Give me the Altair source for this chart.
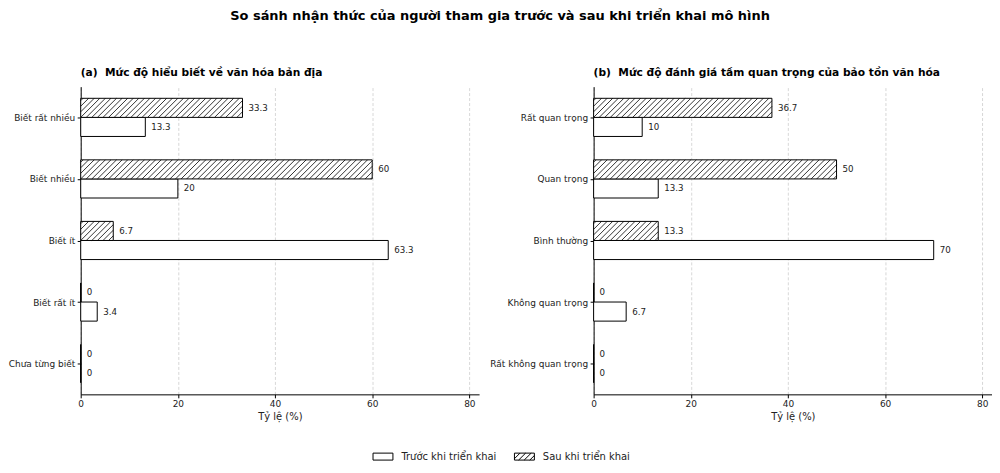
import altair as alt
import pandas as pd

FONT = "DejaVu Sans"
TITLE = "So sánh nhận thức của người tham gia trước và sau khi triển khai mô hình"
SERIES = ["Trước khi triển khai", "Sau khi triển khai"]

cats_a = ["Biết rất nhiều", "Biết nhiều", "Biết ít", "Biết rất ít", "Chưa từng biết"]
before_a = [13.3, 20, 63.3, 3.4, 0]
after_a = [33.3, 60, 6.7, 0, 0]
title_a = "(a)\u00a0 Mức độ hiểu biết về văn hóa bản địa"

cats_b = ["Rất quan trọng", "Quan trọng", "Bình thường", "Không quan trọng", "Rất không quan trọng"]
before_b = [10, 13.3, 70, 6.7, 0]
after_b = [36.7, 50, 13.3, 0, 0]
title_b = "(b)\u00a0 Mức độ đánh giá tầm quan trọng của bảo tồn văn hóa"

x_ticks = [0, 20, 40, 60, 80]
X_MAX = 82
x_title = "Tỷ lệ (%)"

# layout / style constants
W, H = 400, 309
BAR = 0.31
PXU = W / X_MAX
PYU = H / 5
HATCH_PX = 5.6
D = BAR * PYU / PXU      # 45-degree run in x-units across a bar
S = HATCH_PX / PXU       # hatch spacing in x-units


def legend_paths():
    hh = 0.35
    rect = f"M-1,{-hh}H1V{hh}H-1Z"
    run = 2 * hh
    step = HATCH_PX / 10.0
    segs = []
    a = -1 - run
    while a < 1:
        xs = max(a, -1)
        xe = min(a + run, 1)
        if xe > xs:
            ys = hh - (xs - a)
            ye = hh - (xe - a)
            segs.append(f"M{xs:.3f},{ys:.3f}L{xe:.3f},{ye:.3f}")
        a += step
    return rect, rect + "".join(segs)


def panel(cats, before, after, title, extent, with_legend):
    rows = []
    for i, c in enumerate(cats):
        rows.append({"cat": c, "idx": i, "series": SERIES[0], "value": before[i]})
        rows.append({"cat": c, "idx": i, "series": SERIES[1], "value": after[i]})
    df = pd.DataFrame(rows)

    label_expr = "[" + ",".join(f"'{c}'" for c in cats) + "][datum.value]"
    xscale = alt.Scale(domain=[0, X_MAX], nice=False, zero=True)
    xaxis = alt.Axis(values=x_ticks, title=x_title, grid=True, format="d", labelFlush=False)
    yscale = alt.Scale(domain=[-0.5, len(cats) - 0.5], reverse=True, nice=False, zero=False)
    yaxis = alt.Axis(values=list(range(len(cats))), labelExpr=label_expr, title=None,
                     grid=False, minExtent=extent, maxExtent=extent)

    base = alt.Chart(df).transform_calculate(
        y0=f"datum.idx + (datum.series === '{SERIES[1]}' ? {-BAR} : 0)"
    ).transform_calculate(
        y1=f"datum.y0 + {BAR}", ym=f"datum.y0 + {BAR / 2}"
    )

    bars = base.mark_rect(fill="white", stroke="black", strokeWidth=1).encode(
        x=alt.X("value:Q", scale=xscale, axis=xaxis),
        x2=alt.datum(0),
        y=alt.Y("y0:Q", scale=yscale, axis=yaxis),
        y2="y1:Q",
    )

    hatch = base.transform_filter(
        f"datum.series === '{SERIES[1]}'"
    ).transform_calculate(
        ks=f"sequence(floor({-D}/{S}) - 1, ceil(datum.value/{S}) + 1)"
    ).transform_flatten(["ks"]).transform_calculate(
        a=f"datum.ks * {S}"
    ).transform_calculate(
        xs="max(datum.a, 0)", xe=f"min(datum.a + {D}, datum.value)"
    ).transform_filter("datum.xe > datum.xs").transform_calculate(
        ys=f"datum.y1 + (datum.xs - datum.a) / {D} * (datum.y0 - datum.y1)",
        ye=f"datum.y1 + (datum.xe - datum.a) / {D} * (datum.y0 - datum.y1)",
    ).mark_rule(color="black", strokeWidth=0.8).encode(
        x=alt.X("xs:Q", scale=xscale, axis=xaxis),
        x2="xe:Q",
        y=alt.Y("ys:Q", scale=yscale, axis=yaxis),
        y2="ye:Q",
    )

    labels = base.mark_text(align="left", baseline="middle", dx=6, fontSize=8.7,
                            font=FONT, color="#222").encode(
        x=alt.X("value:Q", scale=xscale, axis=xaxis),
        y=alt.Y("ym:Q", scale=yscale, axis=yaxis),
        text=alt.Text("value:Q", format=".3~g"),
    )

    layers = [bars, hatch, labels]
    if with_legend:
        p_plain, p_hatch = legend_paths()
        leg = base.transform_filter("datum.value < 0").mark_point(
            filled=False, color="black", strokeWidth=1
        ).encode(
            x=alt.X("value:Q", scale=xscale, axis=xaxis),
            y=alt.Y("ym:Q", scale=yscale, axis=yaxis),
            shape=alt.Shape("series:N",
                            scale=alt.Scale(domain=SERIES, range=[p_plain, p_hatch]),
                            legend=alt.Legend(
                                orient="none", legendX=293, legendY=361,
                                direction="horizontal", title=None,
                                symbolSize=400, symbolStrokeColor="black",
                                symbolFillColor="white", symbolStrokeWidth=1,
                                symbolOpacity=1, labelFontSize=10, labelFont=FONT,
                                labelColor="#222", labelOffset=8, columnPadding=15,
                            )),
        )
        layers.append(leg)

    return alt.layer(*layers).properties(
        width=W, height=H,
        title=alt.TitleParams(title, anchor="start", frame="group", fontSize=10.7,
                              fontWeight="bold", font=FONT, color="black", offset=8),
    )


left = panel(cats_a, before_a, after_a, title_a, 71, True)
right = panel(cats_b, before_b, after_b, title_b, 104, False)

chart = alt.hconcat(left, right, spacing=10).properties(
    title=alt.TitleParams(TITLE, anchor="middle", fontSize=13, fontWeight="bold",
                          font=FONT, color="black", offset=44),
    padding={"left": 0, "top": 1, "right": 0, "bottom": 0},
).configure_view(stroke=None).configure_axis(
    domainColor="black", domainWidth=1, tickColor="black", tickWidth=1, tickSize=3.5,
    labelColor="#222", titleColor="#222", labelFont=FONT, titleFont=FONT,
    labelFontSize=9, titleFontSize=10, titleFontWeight="normal",
    gridColor="#cccccc", gridDash=[3, 2], gridWidth=0.8,
).configure_axisX(labelPadding=2, titlePadding=3).configure_axisY(labelPadding=2.5)

chart.save("out.html", embed_options={"renderer": "svg", "actions": False})
